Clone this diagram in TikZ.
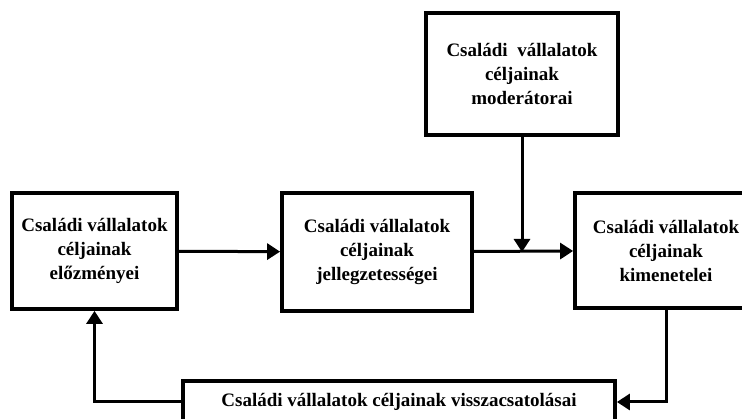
\documentclass[tikz,border=0pt]{standalone}
\usepackage{fontspec}
\setmainfont{Liberation Serif}
\usepackage{tikz}
\usetikzlibrary{calc,arrows.meta,positioning}
\tikzstyle{box}=[draw=boxline,fill=white,line width=3.8pt,align=center,inner sep=2pt,font=\bfseries\fontsize{19}{24}\selectfont]
\tikzstyle{arr}=[draw=boxline,line width=3pt,-{Triangle[length=13pt,width=16pt]}]
\definecolor{boxline}{RGB}{0,0,0}

\begin{document}
\begin{tikzpicture}[x=1pt,y=1pt]
\useasboundingbox (0,0) rectangle (742,419);
\draw (94.5,168) node [box,minimum width=165pt,minimum height=116pt] (b1) {Családi vállalatok\\céljainak\\előzményei};
\draw (377,167) node [box,minimum width=190pt,minimum height=118pt] (b2) {Családi vállalatok\\céljainak\\jellegzetességei};
\draw (666,168.5) node [box,minimum width=182pt,minimum height=115pt] (b3) {Családi vállalatok\\céljainak\\kimenetelei};
\draw (522,345) node [box,minimum width=192pt,minimum height=122pt] (mod) {Családi\ \ vállalatok\\céljainak\\moderátorai};
\draw (399,17) node [box,minimum width=432pt,minimum height=42pt] (fb) {Családi vállalatok céljainak visszacsatolásai};
\draw[arr] (b1) -- (b2);
\draw[arr] (b2) -- (b3);
\draw[arr] (mod) -- (mod |- b2.east);
\draw[arr] (b3) |- (fb);
\draw[arr] (fb) -| (b1);
\end{tikzpicture}
\end{document}
